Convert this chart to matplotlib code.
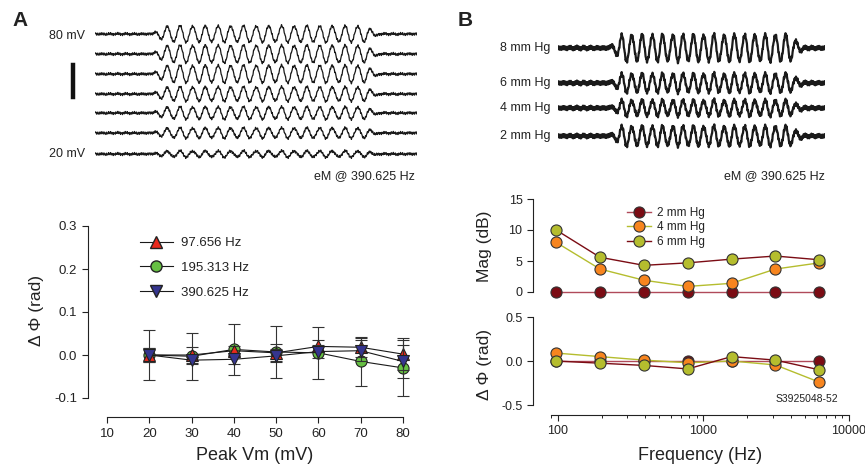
import numpy as np
import matplotlib
matplotlib.use("Agg")
import matplotlib.pyplot as plt
from matplotlib.lines import Line2D

plt.rcParams["font.family"] = ["Liberation Sans", "DejaVu Sans"]
plt.rcParams["text.color"] = "#222222"
plt.rcParams["axes.edgecolor"] = "#222222"
plt.rcParams["xtick.color"] = "#222222"
plt.rcParams["ytick.color"] = "#222222"

# --- panel A: phase shift vs peak Vm ---
peak_vm = [20, 30, 40, 50, 60, 70, 80]
dphi_97 = [0.0, 0.0, 0.010, 0.005, 0.020, 0.018, 0.002]
err_97 = [0.016, 0.018, 0.012, 0.020, 0.014, 0.022, 0.038]
dphi_195 = [0.0, -0.003, 0.013, 0.007, 0.005, -0.015, -0.030]
err_195 = [0.058, 0.055, 0.060, 0.060, 0.060, 0.058, 0.066]
dphi_390 = [0.0, -0.012, -0.010, -0.002, 0.008, 0.010, -0.015]
err_390 = [0.017, 0.008, 0.010, 0.015, 0.015, 0.025, 0.038]

# recorded traces, 80 mV at top down to 20 mV
trace_vm = [80, 70, 60, 50, 40, 30, 20]
trace_amp_a = [8.0, 8.5, 8.5, 7.0, 6.0, 5.0, 3.0]

# --- panel B: magnitude / phase vs frequency ---
freq_hz = [97.656, 195.313, 390.625, 781.25, 1562.5, 3125, 6250]
mag_2 = [0, 0, 0, 0, 0, 0, 0]
mag_4 = [8.0, 3.7, 1.9, 0.9, 1.4, 3.7, 4.7]
mag_6 = [10.0, 5.6, 4.3, 4.7, 5.3, 5.8, 5.2]
ph_2 = [0, 0, 0, 0, 0, 0, 0]
ph_4 = [0.09, 0.05, 0.01, -0.02, 0.0, -0.045, -0.24]
ph_6 = [0.0, -0.025, -0.05, -0.09, 0.05, 0.01, -0.10]

trace_mmhg = [8, 6, 4, 2]
trace_amp_b = [13.0, 9.0, 7.5, 9.5]

W, H = 865, 468


def box(x0, y0, x1, y1):
    return [x0 / W, 1 - y1 / H, (x1 - x0) / W, (y1 - y0) / H]


def trace(t, amp, cycles, t0, t1, fuzz_amp):
    env = np.clip((t - t0) / 0.05, 0, 1) * np.clip((t1 - t) / 0.05, 0, 1)
    sig = amp * env * np.sin(2 * np.pi * cycles * (t - t0) / (t1 - t0))
    fuzz = (0.8 * np.sin(2 * np.pi * 173 * t) + 0.5 * np.sin(2 * np.pi * 311 * t + 1)
            + 0.4 * np.sin(2 * np.pi * 41 * t + 2))
    return sig + fuzz_amp * fuzz


fig = plt.figure(figsize=(8.65, 4.68), dpi=100)
t = np.linspace(0, 1, 2400)

# ---------- A traces ----------
axt = fig.add_axes(box(95, 20, 417, 165))
axt.set_xlim(0, 1)
axt.set_ylim(165, 20)
axt.axis("off")
rows_a = [34, 54, 74, 94, 113, 133, 154]
for row, amp in zip(rows_a, trace_amp_a):
    axt.plot(t, row - trace(t, amp, 18, 0.175, 0.885, 1.0), color="#1a1a1a", lw=0.9)
fig.text(85 / W, 1 - 36 / H, f"{trace_vm[0]} mV", ha="right", va="center", fontsize=9)
fig.text(85 / W, 1 - 154 / H, f"{trace_vm[-1]} mV", ha="right", va="center", fontsize=9)
fig.add_artist(Line2D([73 / W, 73 / W], [1 - 65 / H, 1 - 97 / H], color="#111111", lw=3.2))
fig.text(415 / W, 1 - 176 / H, "eM @ 390.625 Hz", ha="right", va="center", fontsize=9)
fig.text(20 / W, 1 - 21 / H, "A", ha="center", va="center", fontsize=15, fontweight="bold")

# ---------- A phase plot ----------
ax = fig.add_axes(box(107, 226, 403, 398))
series_a = [
    (dphi_195, err_195, "o", "#66c043", 3),
    (dphi_97, err_97, "^", "#e8291c", 4),
    (dphi_390, err_390, "v", "#35358f", 5),
]
for vals, err, mk, col, z in series_a:
    cont = ax.errorbar(peak_vm, vals, yerr=err, color="#1a1a1a", lw=0.8, marker=mk,
                       mfc=col, mec="#222222", mew=0.8, ms=8, ecolor="#333333",
                       elinewidth=0.8, capsize=4.5, capthick=0.8, zorder=z)
    for art in cont.get_children():
        art.set_clip_on(False)
ax.set_xlim(10, 80)
ax.set_ylim(-0.1, 0.3)
ax.set_xticks(range(10, 81, 10))
ax.set_yticks([-0.1, 0.0, 0.1, 0.2, 0.3])
ax.set_yticklabels(["-0.1", "0.0", "0.1", "0.2", "0.3"])
for side in ["top", "right"]:
    ax.spines[side].set_visible(False)
ax.spines["left"].set_position(("outward", 14))
ax.spines["bottom"].set_position(("outward", 14))
ax.tick_params(labelsize=9.5, length=4, width=0.8)
ax.patch.set_alpha(0)
handles = [
    Line2D([], [], color="#1a1a1a", lw=0.8, marker="^", mfc="#e8291c", mec="#222222", ms=8),
    Line2D([], [], color="#1a1a1a", lw=0.8, marker="o", mfc="#66c043", mec="#222222", ms=8),
    Line2D([], [], color="#1a1a1a", lw=0.8, marker="v", mfc="#35358f", mec="#222222", ms=8),
]
fig.legend(handles, ["97.656 Hz", "195.313 Hz", "390.625 Hz"], loc="upper left",
           bbox_to_anchor=(140 / W, 1 - 237 / H), frameon=False, fontsize=9.5,
           handlelength=2.5, handletextpad=0.6, labelspacing=0.95, borderpad=0,
           borderaxespad=0)
fig.text(37 / W, 1 - 311 / H, "Δ Φ (rad)", rotation=90, ha="center", va="center", fontsize=12.5)
fig.text(255 / W, 1 - 456 / H, "Peak Vm (mV)", ha="center", va="center", fontsize=13)

# ---------- B traces ----------
axb = fig.add_axes(box(558, 25, 825, 155))
axb.set_xlim(0, 1)
axb.set_ylim(155, 25)
axb.axis("off")
rows_b = [48, 83, 108, 136]
for row, amp, p in zip(rows_b, trace_amp_b, trace_mmhg):
    axb.plot(t, row - trace(t, amp, 19, 0.19, 0.92, 1.5), color="#1a1a1a", lw=1.6)
    fig.text(550 / W, 1 - row / H, f"{p} mm Hg", ha="right", va="center", fontsize=9)
fig.text(825 / W, 1 - 176 / H, "eM @ 390.625 Hz", ha="right", va="center", fontsize=9)
fig.text(465 / W, 1 - 21 / H, "B", ha="center", va="center", fontsize=15, fontweight="bold")

c_dark = "#7b0c14"
c_orange = "#f7851f"
c_olive = "#b5bd2e"
c_rose = "#b04a5a"
series_b = [
    ("2 mm Hg", mag_2, ph_2, c_dark, c_rose),
    ("4 mm Hg", mag_4, ph_4, c_orange, c_olive),
    ("6 mm Hg", mag_6, ph_6, c_olive, c_dark),
]

axm = fig.add_axes(box(551, 199, 849, 292))
axp = fig.add_axes(box(551, 317, 849, 405))
for lab, mag, ph, mc, lc in series_b:
    axm.plot(freq_hz, mag, color=lc, lw=1.0, marker="o", ms=8, mfc=mc, mec="#333333",
             mew=0.8, clip_on=False, label=lab)
    axp.plot(freq_hz, ph, color=lc, lw=1.0, marker="o", ms=8, mfc=mc, mec="#333333",
             mew=0.8, clip_on=False)

for a in (axm, axp):
    a.set_xscale("log")
    a.set_xlim(90, 10000)
    for side in ["top", "right"]:
        a.spines[side].set_visible(False)
    a.spines["left"].set_position(("outward", 13))
    a.tick_params(labelsize=9, length=4, width=0.8)
    a.patch.set_alpha(0)

axm.set_ylim(0, 15)
axm.set_yticks([0, 5, 10, 15])
axm.spines["bottom"].set_visible(False)
axm.tick_params(axis="x", which="both", bottom=False, labelbottom=False)
axm.legend(loc="upper left", bbox_to_anchor=(627 / W, 1 - 207 / H),
           bbox_transform=fig.transFigure, frameon=False, fontsize=8.5,
           handlelength=2.0, handletextpad=0.5, labelspacing=0.2, borderpad=0,
           borderaxespad=0)

axp.set_ylim(-0.5, 0.5)
axp.set_yticks([-0.5, 0.0, 0.5])
axp.set_yticklabels(["-0.5", "0.0", "0.5"])
axp.spines["bottom"].set_position(("outward", 7))
axp.set_xticks([100, 1000, 10000])
axp.set_xticklabels(["100", "1000", "10000"])
axp.tick_params(axis="x", which="minor", length=2.5, width=0.7)

fig.text(807 / W, 1 - 399 / H, "S3925048-52", ha="center", va="center", fontsize=7.5)
fig.text(485 / W, 1 - 246 / H, "Mag (dB)", rotation=90, ha="center", va="center", fontsize=12.5)
fig.text(485 / W, 1 - 365 / H, "Δ Φ (rad)", rotation=90, ha="center", va="center", fontsize=12.5)
fig.text(700 / W, 1 - 456 / H, "Frequency (Hz)", ha="center", va="center", fontsize=13)

fig.savefig("out.png", dpi=100)
